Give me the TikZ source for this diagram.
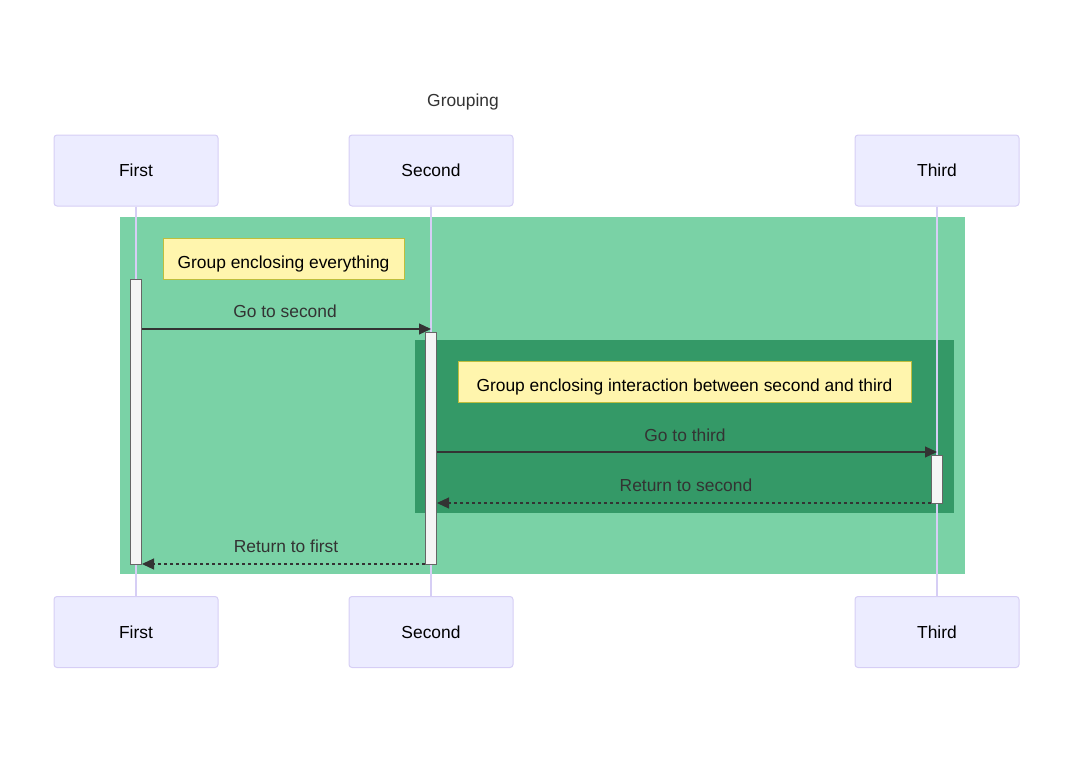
\documentclass[tikz,border=0pt]{standalone}
\usepackage{fontspec}
\setmainfont{Liberation Sans}
\usetikzlibrary{arrows.meta}
\definecolor{actorfill}{RGB}{236,236,255}
\definecolor{actorline}{RGB}{214,206,245}
\definecolor{notefill}{RGB}{255,245,173}
\definecolor{noteline}{RGB}{190,190,60}
\definecolor{outergrp}{RGB}{122,210,166}
\definecolor{innergrp}{RGB}{52,153,103}
\definecolor{msgtext}{RGB}{51,51,51}
\tikzstyle{actor} = [rectangle, rounded corners=3pt, minimum width=164pt, minimum height=71pt,
text centered, draw=actorline, line width=1pt, fill=actorfill, font=\fontsize{17.4}{20}\selectfont]
\tikzstyle{note} = [rectangle, minimum height=41pt, text centered, draw=noteline, line width=1pt,
fill=notefill, text height=19pt, text depth=0pt, font=\fontsize{17.4}{20}\selectfont]
\tikzstyle{act} = [rectangle, draw=black!60, line width=1pt, fill=black!4, minimum width=11pt, inner sep=0pt]
\tikzstyle{label} = [text=msgtext, font=\fontsize{17.4}{20}\selectfont]
\tikzstyle{arrow} = [draw=msgtext, line width=1.2pt, -{Triangle[length=12pt,width=11pt]}]
\tikzstyle{back} = [arrow, dashed, dash pattern=on 3pt off 3pt]
\tikzstyle{life} = [draw=actorline, line width=1.5pt]

\begin{document}
\begin{tikzpicture}[x=1pt,y=-1pt]
\useasboundingbox (0,0) rectangle (1074,760);
\node (title)[label] at (463,102) {Grouping};
% actors
\node (first)[actor] at (136,170.5) {First};
\node (second)[actor] at (431,170.5) {Second};
\node (third)[actor] at (937,170.5) {Third};
\node (firstb)[actor] at (136,632) {First};
\node (secondb)[actor] at (431,632) {Second};
\node (thirdb)[actor] at (937,632) {Third};
% groups
\fill[outergrp] (120,217) rectangle (965,574);
\fill[innergrp] (415,340) rectangle (954,513);
% lifelines
\draw [life](first) -- (firstb);
\draw [life](second) -- (secondb);
\draw [life](third) -- (thirdb);
% notes
\node (note1)[note, minimum width=241pt] at (283.5,258.5) {Group enclosing everything};
\node (note2)[note, minimum width=453pt] at (684.5,382) {Group enclosing interaction between second and third};
% activations
\node (act1)[act, minimum height=285pt] at (136,421.5) {};
\node (act2)[act, minimum height=232pt] at (431,448) {};
\node (act3)[act, minimum height=48pt] at (937,479) {};
% message ends
\coordinate (m1) at (431,329);
\coordinate (m2) at (937,452);
\coordinate (m3) at (437,503);
\coordinate (m4) at (142,564);
\draw [arrow](act1.east |- m1) -- (m1);
\draw [arrow](act2.east |- m2) -- (m2);
\draw [back](act3.west |- m3) -- (m3);
\draw [back](act2.west |- m4) -- (m4);
\node (l1)[label] at (285,311) {Go to second};
\node (l2)[label] at (685,435) {Go to third};
\node (l3)[label] at (686,485) {Return to second};
\node (l4)[label] at (286,546) {Return to first};
\end{tikzpicture}
\end{document}
